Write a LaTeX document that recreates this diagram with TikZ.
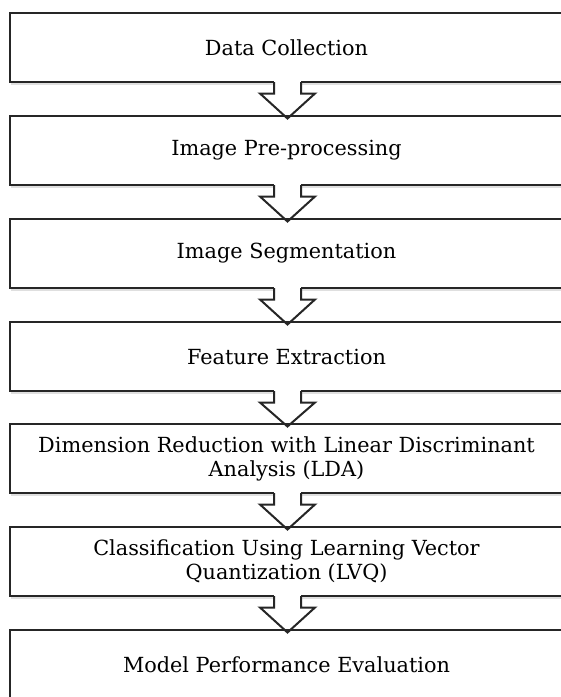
\documentclass[tikz,border=0pt]{standalone}
\usepackage{fontspec}
\setmainfont{DejaVu Serif}
\usetikzlibrary{calc,shadows}

\tikzset{
	stagebox/.style={draw=black!85, line width=2pt, fill=white, minimum width=553pt, minimum height=69pt, align=center, inner sep=2pt, font=\fontsize{20.8}{24}\selectfont, drop shadow={shadow xshift=1pt, shadow yshift=-3pt, opacity=0.25}},
	blockarrow/.style={draw=black!85, line width=2pt, line join=miter}
}

\begin{document}
\begin{tikzpicture}[x=1pt, y=-1pt]
		%%%%% START %%%%%
		
		\clip (0, 0) rectangle (561, 697);
		\fill[white] (0, 0) rectangle (561, 697);
		
		\node[stagebox] (b1) at (286.5, 47.5) {Data Collection};
		\node[stagebox] (b2) at (286.5, 150.5) {Image Pre-processing};
		\node[stagebox] (b3) at (286.5, 253.5) {Image Segmentation};
		\node[stagebox] (b4) at (286.5, 356.5) {Feature Extraction};
		\node[stagebox] (b5) at (286.5, 458.5) {Dimension Reduction with Linear Discriminant\\Analysis (LDA)};
		\node[stagebox] (b6) at (286.5, 561.5) {Classification Using Learning Vector\\Quantization (LVQ)};
		\node[stagebox] (b7) at (286.5, 664.5) {Model Performance Evaluation};
		
		% arrows between the stages
		\foreach \i/\j in {1/2, 2/3, 3/4, 4/5, 5/6, 6/7} {
			\coordinate (t\i) at ($(b\i.south)+(1, 0)$);
			\fill[white] ($(t\i)+(-13.5, -3)$) rectangle ($(t\i)+(13.5, 10.5)$);
			\draw[blockarrow] ($(t\i)+(-13.5, -1)$) -- ++(0, 11.5) -- ++(-14, 0)
				-- ($(b\j.north)+(1, 3.5)$) -- ($(t\i)+(27.5, 10.5)$) -- ++(-14, 0) -- ++(0, -11.5);
		}
		
		%%%%% END %%%%%
	\end{tikzpicture}
\end{document}
